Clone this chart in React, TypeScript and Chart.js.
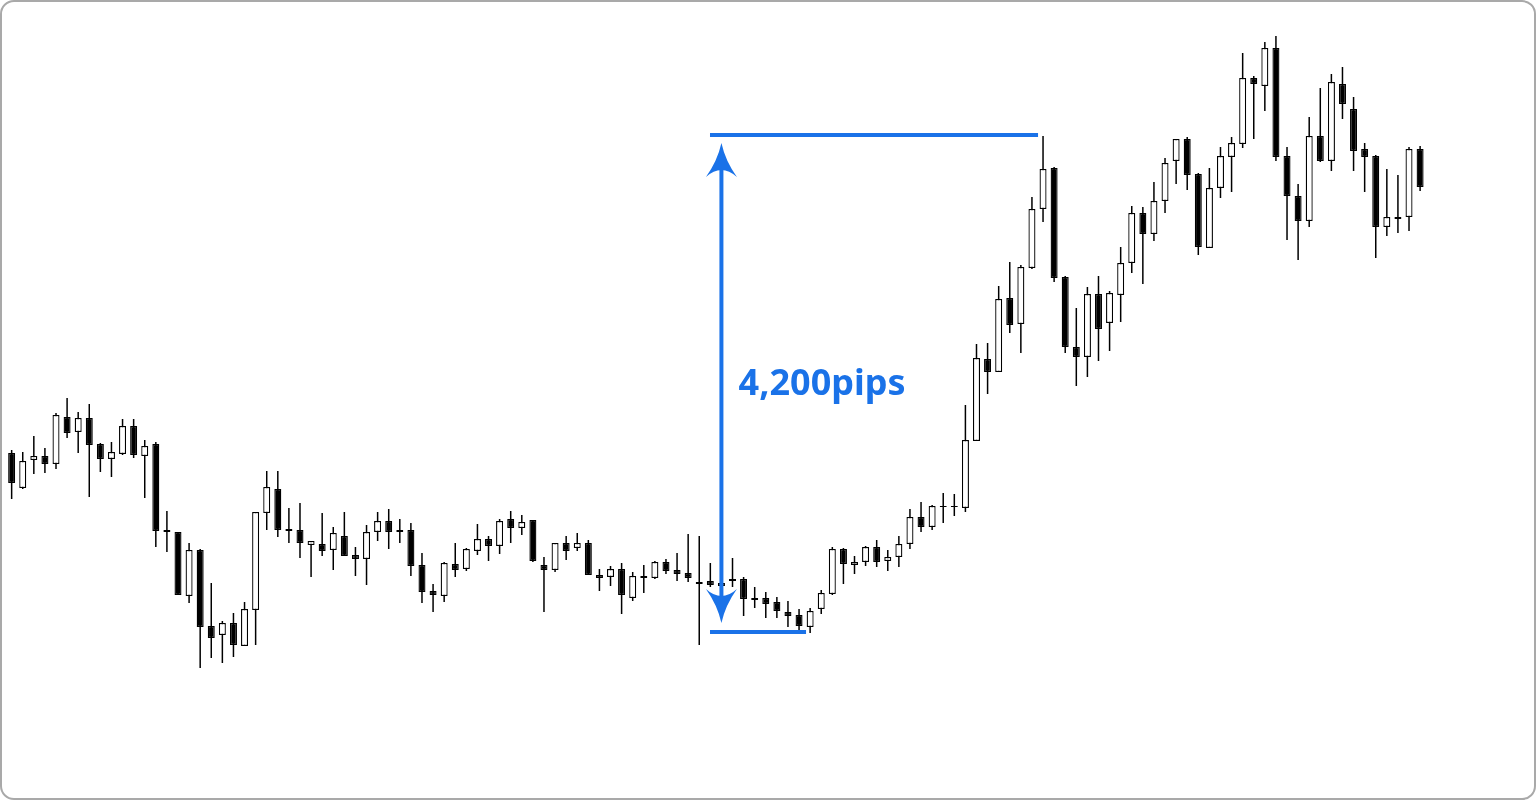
import React, { useEffect, useRef } from "react";
import { Chart, registerables } from "chart.js";

Chart.register(...registerables);

// OHLC values (price index units)
const opens = [
  347, 312, 340, 344, 336, 383, 368, 382, 356, 341,
  346, 374, 344, 356, 270, 268, 204, 250, 174, 165,
  177, 154, 190, 287, 311, 271, 270, 255, 256, 250,
  264, 245, 241, 268, 279, 270, 270, 235, 209, 204,
  236, 231, 249, 261, 254, 281, 272, 280, 235, 230,
  257, 252, 257, 225, 223, 231, 202, 224, 222, 238,
  230, 227, 218, 219, 217, 221, 221, 202, 202, 198,
  188, 185, 173, 191, 206, 251, 235, 238, 253, 239,
  243, 256, 283, 273, 294, 294, 292, 359, 441, 428,
  502, 476, 532, 591, 632, 523, 453, 443, 506, 477,
  505, 537, 587, 566, 599, 639, 661, 626, 552, 612,
  643, 656, 722, 714, 752, 644, 604, 579, 664, 639,
  716, 691, 651, 644, 573, 583, 583, 651,
];

const highs = [
  350, 348, 364, 352, 387, 402, 388, 396, 357, 358,
  381, 381, 360, 358, 289, 268, 257, 251, 217, 179,
  187, 198, 288, 329, 329, 292, 297, 259, 287, 273,
  288, 253, 275, 288, 291, 281, 277, 247, 216, 238,
  257, 252, 276, 264, 281, 289, 285, 280, 243, 257,
  264, 267, 260, 231, 234, 237, 228, 235, 239, 241,
  247, 266, 264, 237, 222, 242, 223, 213, 208, 203,
  199, 191, 192, 210, 253, 252, 244, 254, 260, 250,
  264, 291, 298, 295, 307, 306, 395, 456, 457, 514,
  538, 535, 603, 664, 633, 524, 492, 513, 524, 509,
  553, 594, 593, 618, 642, 661, 663, 627, 632, 653,
  663, 747, 724, 758, 764, 653, 616, 683, 712, 726,
  733, 703, 657, 645, 631, 625, 653, 654,
];

const lows = [
  301, 311, 326, 327, 331, 362, 347, 303, 328, 323,
  345, 342, 302, 253, 248, 205, 197, 132, 142, 137,
  143, 154, 155, 270, 263, 257, 242, 223, 244, 230,
  244, 224, 215, 259, 251, 257, 224, 197, 188, 198,
  223, 229, 245, 239, 246, 257, 265, 238, 188, 228,
  240, 249, 225, 209, 214, 186, 199, 207, 221, 226,
  219, 218, 155, 213, 210, 213, 184, 192, 182, 182,
  173, 170, 167, 186, 205, 216, 226, 234, 233, 229,
  233, 251, 268, 270, 277, 284, 288, 359, 406, 428,
  467, 447, 531, 578, 518, 447, 414, 423, 439, 449,
  478, 527, 516, 559, 587, 616, 610, 545, 552, 602,
  608, 652, 661, 689, 639, 560, 540, 573, 638, 629,
  681, 629, 608, 542, 564, 567, 569, 609,
];

const closes = [
  317, 339, 344, 336, 385, 367, 382, 355, 341, 348,
  374, 345, 354, 269, 268, 205, 250, 173, 162, 177,
  155, 191, 288, 313, 270, 269, 257, 259, 249, 267,
  244, 241, 268, 279, 268, 268, 234, 208, 205, 237,
  230, 251, 261, 254, 279, 272, 278, 239, 230, 257,
  249, 257, 225, 222, 231, 205, 224, 222, 238, 229,
  226, 222, 216, 215, 214, 219, 201, 200, 196, 189,
  184, 174, 189, 207, 251, 236, 238, 253, 238, 243,
  256, 283, 273, 294, 293, 293, 360, 442, 428, 501,
  475, 533, 591, 631, 522, 453, 443, 506, 471, 507,
  537, 587, 566, 599, 637, 661, 625, 553, 612, 644,
  657, 722, 716, 752, 643, 604, 579, 664, 639, 718,
  696, 649, 643, 573, 583, 581, 651, 613,
];

// Annotation (measured range)
const RANGE_LOW = 168;
const RANGE_HIGH = 665;
const ARROW_X = 65;
const LINE_START_X = 63.97;
const BOTTOM_LINE_END_X = 72.63;
const TOP_LINE_END_X = 93.55;
const LABEL = "4,200pips";
const LABEL_X = 66.55;
const LABEL_Y = 405;

const BLUE = "#1a72e8";

const annotationPlugin = {
  id: "pipsAnnotation",
  afterDatasetsDraw(chart: any) {
    const { ctx } = chart;
    const xs = chart.scales.x;
    const ys = chart.scales.y;
    const ax = xs.getPixelForValue(ARROW_X);
    const yLow = ys.getPixelForValue(RANGE_LOW);
    const yHigh = ys.getPixelForValue(RANGE_HIGH);
    const x0 = xs.getPixelForValue(LINE_START_X);
    ctx.save();
    ctx.strokeStyle = BLUE;
    ctx.fillStyle = BLUE;
    ctx.lineWidth = 4;
    ctx.lineCap = "butt";
    ctx.beginPath();
    ctx.moveTo(x0, yHigh);
    ctx.lineTo(xs.getPixelForValue(TOP_LINE_END_X), yHigh);
    ctx.moveTo(x0, yLow);
    ctx.lineTo(xs.getPixelForValue(BOTTOM_LINE_END_X), yLow);
    ctx.stroke();

    const gap = 8;
    const headLen = 34;
    const halfW = 15.5;
    const topTip = yHigh + gap;
    const botTip = yLow - gap - 1;
    ctx.beginPath();
    ctx.moveTo(ax, topTip + headLen - 8);
    ctx.lineTo(ax, botTip - headLen + 8);
    ctx.stroke();

    const head = (tipY: number, d: number) => {
      ctx.beginPath();
      ctx.moveTo(ax, tipY);
      ctx.quadraticCurveTo(ax - 4, tipY + d * 18, ax - halfW, tipY + d * headLen);
      ctx.quadraticCurveTo(ax, tipY + d * 20, ax + halfW, tipY + d * headLen);
      ctx.quadraticCurveTo(ax + 4, tipY + d * 18, ax, tipY);
      ctx.closePath();
      ctx.fill();
    };
    head(topTip, 1);
    head(botTip, -1);

    ctx.font = 'bold 36px "Noto Sans", "Open Sans", sans-serif';
    ctx.textBaseline = "alphabetic";
    ctx.textAlign = "left";
    ctx.fillText(LABEL, xs.getPixelForValue(LABEL_X), ys.getPixelForValue(LABEL_Y));
    ctx.restore();
  },
};

export default function App() {
  const ref = useRef<HTMLCanvasElement>(null);

  useEffect(() => {
    const idx = opens.map((_, i) => i + 1);
    const bodyData = idx.map((x, i) => ({ x, y: [opens[i], closes[i]] }));
    const wickData = idx.map((x, i) => ({ x, y: [lows[i], highs[i]] }));
    const fills = opens.map((o, i) => (closes[i] > o ? "#ffffff" : "#000000"));

    const chart = new Chart(ref.current as HTMLCanvasElement, {
      type: "bar",
      data: {
        datasets: [
          {
            label: "body",
            data: bodyData as any,
            backgroundColor: fills,
            borderColor: "#000000",
            borderWidth: 1.3,
            borderSkipped: false,
            barThickness: 7,
            grouped: false,
            inflateAmount: 0,
            order: 0,
          } as any,
          {
            label: "wick",
            data: wickData as any,
            backgroundColor: "#000000",
            borderWidth: 0,
            barThickness: 1.5,
            grouped: false,
            inflateAmount: 0,
            order: 1,
          } as any,
        ],
      },
      options: {
        responsive: false,
        maintainAspectRatio: false,
        animation: false,
        layout: { padding: 0 },
        plugins: {
          legend: { display: false },
          title: { display: false },
          tooltip: { enabled: false },
        },
        scales: {
          x: { type: "linear", min: -0.05, max: 138.45, display: false, offset: false },
          y: { type: "linear", min: 0, max: 800, display: false },
        },
      },
      plugins: [annotationPlugin],
    });
    return () => chart.destroy();
  }, []);

  return (
    <div style={{ position: "fixed", left: 0, top: 0, width: 1536, height: 800, background: "#ffffff" }}>
      <canvas
        ref={ref}
        width={1536}
        height={800}
        style={{ position: "absolute", left: 0, top: 0, width: 1536, height: 800 }}
      />
      <div
        style={{
          position: "absolute",
          inset: 0,
          border: "2px solid #a9a9a9",
          borderRadius: 14,
          boxSizing: "border-box",
          pointerEvents: "none",
        }}
      />
    </div>
  );
}
